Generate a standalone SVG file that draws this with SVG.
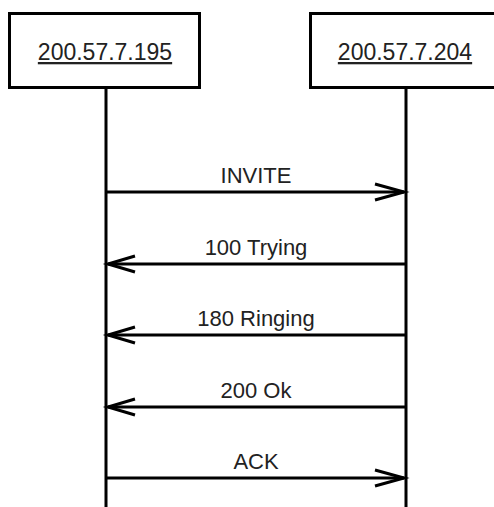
<svg xmlns="http://www.w3.org/2000/svg" width="494" height="507" viewBox="0 0 494 507">
  <style>
    .box { fill: #ffffff; stroke: #000000; stroke-width: 3; }
    .life { stroke: #000000; stroke-width: 3; fill: none; }
    .msg { stroke: #000000; stroke-width: 3; fill: none; }
    .head { stroke: #000000; stroke-width: 3; fill: none; stroke-linejoin: miter; }
    .name { font-family: "Liberation Sans", Arial, sans-serif; font-size: 23px; fill: #222222; text-anchor: middle; text-decoration: underline; }
    .label { font-family: "Liberation Sans", Arial, sans-serif; font-size: 22px; fill: #222222; text-anchor: middle; }
  </style>
  <rect width="494" height="507" fill="#ffffff"/>

  <!-- participant lifelines -->
  <g id="lifelines">
    <line class="life" x1="106" y1="87" x2="106" y2="507"/>
    <line class="life" x1="406" y1="87" x2="406" y2="507"/>
  </g>

  <!-- participants -->
  <g id="node-200-57-7-195">
    <rect class="box" x="9.5" y="13.5" width="190" height="74"/>
    <text class="name" x="105" y="60">200.57.7.195</text>
  </g>
  <g id="node-200-57-7-204">
    <rect class="box" x="310.5" y="13.5" width="190" height="74"/>
    <text class="name" x="405" y="60">200.57.7.204</text>
  </g>

  <!-- messages -->
  <g id="connectors">
    <g id="msg-invite">
      <line class="msg" x1="106" y1="192" x2="404" y2="192"/>
      <polyline class="head" points="375,184 404,192 375,200"/>
      <text class="label" x="256" y="183">INVITE</text>
    </g>
    <g id="msg-100-trying">
      <line class="msg" x1="108" y1="264" x2="406" y2="264"/>
      <polyline class="head" points="135,256 108,264 135,272"/>
      <text class="label" x="256" y="255">100 Trying</text>
    </g>
    <g id="msg-180-ringing">
      <line class="msg" x1="108" y1="335" x2="406" y2="335"/>
      <polyline class="head" points="135,327 108,335 135,343"/>
      <text class="label" x="256" y="326">180 Ringing</text>
    </g>
    <g id="msg-200-ok">
      <line class="msg" x1="108" y1="407" x2="406" y2="407"/>
      <polyline class="head" points="135,399 108,407 135,415"/>
      <text class="label" x="256" y="398">200 Ok</text>
    </g>
    <g id="msg-ack">
      <line class="msg" x1="106" y1="478" x2="404" y2="478"/>
      <polyline class="head" points="375,470 404,478 375,486"/>
      <text class="label" x="256" y="469">ACK</text>
    </g>
  </g>
</svg>
